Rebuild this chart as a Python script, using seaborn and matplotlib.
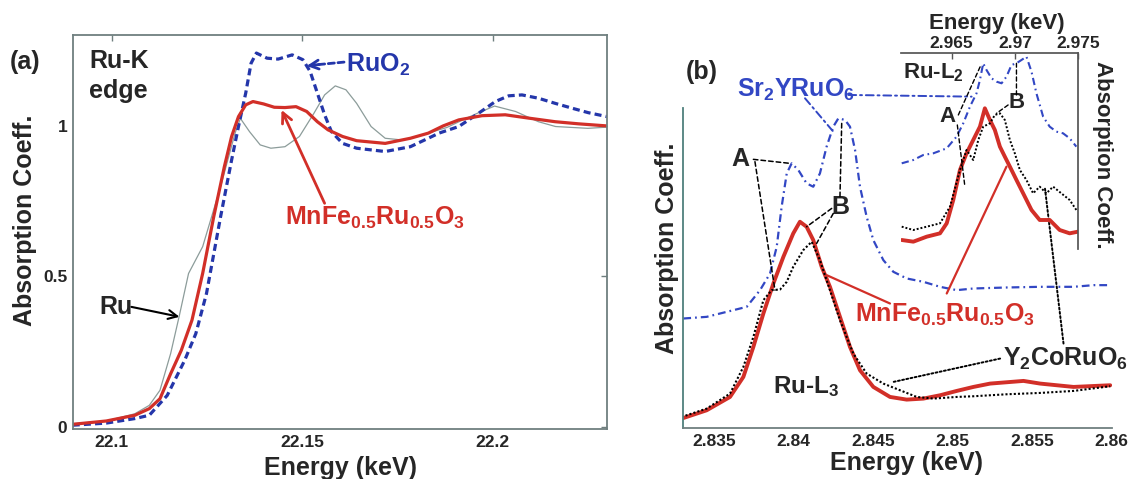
#### Ru-K and Ru-L edge XANES figure ####

# Import Libraries
import numpy as np
import pandas as pd
import matplotlib
matplotlib.use('Agg')
import matplotlib.pyplot as plt
import seaborn as sns

sns.set_theme(style = 'white')
plt.rcParams['font.family'] = ['Liberation Sans', 'DejaVu Sans']
plt.rcParams['font.weight'] = 'bold'
plt.rcParams['mathtext.fontset'] = 'custom'
plt.rcParams['mathtext.rm'] = 'Liberation Sans:bold'
plt.rcParams['mathtext.bf'] = 'Liberation Sans:bold'
plt.rcParams['mathtext.it'] = 'Liberation Sans:bold'
plt.rcParams['mathtext.default'] = 'bf'

# Data
## (a) Ru-K edge
ru_k_energy = [22.0898, 22.0986, 22.1061, 22.1099, 22.1127, 22.1155, 22.1178, 22.1202, 22.1239,
               22.1286, 22.1324, 22.1338, 22.1362, 22.1390, 22.1418, 22.1455, 22.1493, 22.1531,
               22.1559, 22.1587, 22.1615, 22.1643, 22.1681, 22.1718, 22.1765, 22.1831, 22.1880,
               22.1930, 22.1965, 22.2005, 22.2060, 22.2120, 22.2165, 22.2250, 22.2300]
ru_k_mu = [0.011, 0.020, 0.044, 0.072, 0.122, 0.244, 0.371, 0.510, 0.599,
           0.798, 0.976, 1.025, 0.981, 0.937, 0.926, 0.931, 0.965, 1.042,
           1.103, 1.133, 1.120, 1.075, 0.998, 0.959, 0.953, 0.976, 0.995,
           1.025, 1.045, 1.066, 1.048, 1.014, 0.998, 0.992, 0.996]

mnfe_k_energy = [22.0898, 22.0986, 22.1061, 22.1099, 22.1127, 22.1155, 22.1183, 22.1211, 22.1239,
                 22.1268, 22.1296, 22.1315, 22.1333, 22.1352, 22.1371, 22.1399, 22.1427, 22.1455,
                 22.1484, 22.1512, 22.1540, 22.1568, 22.1606, 22.1643, 22.1718, 22.1784, 22.1831,
                 22.1870, 22.1911, 22.1972, 22.2033, 22.2094, 22.2164, 22.2225, 22.2300]
mnfe_k_mu = [0.009, 0.020, 0.039, 0.061, 0.094, 0.177, 0.255, 0.355, 0.510,
             0.698, 0.865, 0.965, 1.031, 1.070, 1.081, 1.073, 1.062, 1.061,
             1.064, 1.048, 1.014, 0.987, 0.965, 0.951, 0.942, 0.959, 0.976,
             1.000, 1.020, 1.034, 1.037, 1.026, 1.014, 1.007, 1.000]

ruo2_energy = [22.0898, 22.0986, 22.1061, 22.1099, 22.1146, 22.1192, 22.1221, 22.1249, 22.1286,
               22.1315, 22.1333, 22.1352, 22.1366, 22.1380, 22.1408, 22.1437, 22.1474, 22.1502,
               22.1521, 22.1540, 22.1559, 22.1577, 22.1606, 22.1643, 22.1718, 22.1784, 22.1831,
               22.1859, 22.1911, 22.1963, 22.2007, 22.2042, 22.2077, 22.2120, 22.2164, 22.2208,
               22.2251, 22.2300]
ruo2_mu = [0.006, 0.013, 0.028, 0.039, 0.105, 0.222, 0.310, 0.443, 0.698,
           0.887, 0.998, 1.109, 1.208, 1.242, 1.225, 1.222, 1.236, 1.220,
           1.181, 1.109, 1.037, 0.981, 0.942, 0.926, 0.915, 0.931, 0.959,
           0.976, 0.998, 1.042, 1.081, 1.100, 1.103, 1.092, 1.075, 1.059,
           1.044, 1.031]

a_xticks = [22.1, 22.15, 22.2]
a_xticklabels = ['22.1', '22.15', '22.2']
a_yticks = [0, 0.5, 1]
a_yticklabels = ['0', '0.5', '1']

## (b) Ru-L3 edge (arbitrary units)
sr_l3_energy = [2.83305, 2.83452, 2.83578, 2.83704, 2.83788, 2.83851, 2.83893, 2.83924, 2.83956,
                2.83987, 2.84029, 2.84081, 2.84123, 2.84165, 2.84207, 2.84249, 2.84281, 2.84323,
                2.84354, 2.84386, 2.84417, 2.84459, 2.84501, 2.84564, 2.84627, 2.84711, 2.84816,
                2.84921, 2.85026, 2.85131, 2.85341, 2.85551, 2.85761, 2.85887, 2.85992]
sr_l3_mu = [0.329, 0.334, 0.349, 0.364, 0.414, 0.464, 0.544, 0.664, 0.764,
            0.794, 0.774, 0.734, 0.724, 0.764, 0.844, 0.904, 0.929, 0.924,
            0.904, 0.834, 0.724, 0.634, 0.564, 0.504, 0.469, 0.449, 0.439,
            0.424, 0.414, 0.419, 0.422, 0.424, 0.424, 0.429, 0.429]

mnfe_l3_energy = [2.83294, 2.83452, 2.83599, 2.83683, 2.83746, 2.83809, 2.83872, 2.83935, 2.83997,
                  2.84039, 2.84081, 2.84123, 2.84176, 2.84228, 2.84291, 2.84354, 2.84417, 2.84501,
                  2.84606, 2.84711, 2.84816, 2.84921, 2.85026, 2.85131, 2.85236, 2.85341, 2.85446,
                  2.85551, 2.85761, 2.85992]
mnfe_l3_mu = [0.029, 0.054, 0.094, 0.154, 0.244, 0.344, 0.434, 0.514, 0.584,
              0.619, 0.604, 0.564, 0.484, 0.424, 0.334, 0.244, 0.174, 0.124,
              0.094, 0.086, 0.089, 0.099, 0.112, 0.124, 0.134, 0.138, 0.142,
              0.134, 0.124, 0.129]

y2co_l3_energy = [2.83294, 2.83452, 2.83599, 2.83683, 2.83746, 2.83809, 2.83861, 2.83914, 2.83956,
                  2.83997, 2.84060, 2.84113, 2.84165, 2.84228, 2.84291, 2.84375, 2.84459, 2.84564,
                  2.84669, 2.84774, 2.84879, 2.85026, 2.85131, 2.85341, 2.85551, 2.85761, 2.85992]
y2co_l3_mu = [0.034, 0.059, 0.104, 0.184, 0.274, 0.384, 0.414, 0.416, 0.439,
              0.484, 0.534, 0.559, 0.504, 0.414, 0.324, 0.224, 0.164, 0.134,
              0.114, 0.094, 0.089, 0.094, 0.096, 0.102, 0.106, 0.112, 0.126]

b_xticks = [2.835, 2.84, 2.845, 2.85, 2.855, 2.86]
b_xticklabels = ['2.835', '2.84', '2.845', '2.85', '2.855', '2.86']

## (b) inset: Ru-L2 edge
sr_l2_energy = [2.96105, 2.96197, 2.96276, 2.96355, 2.96461, 2.96539, 2.96592, 2.96645, 2.96697,
                2.96724, 2.96750, 2.96776, 2.96816, 2.96855, 2.96895, 2.96934, 2.96974, 2.97013,
                2.97053, 2.97092, 2.97132, 2.97171, 2.97224, 2.97276, 2.97329, 2.97382, 2.97434,
                2.97487]
sr_l2_mu = [0.260, 0.270, 0.285, 0.290, 0.305, 0.340, 0.380, 0.430, 0.470,
            0.510, 0.560, 0.540, 0.515, 0.505, 0.500, 0.520, 0.555, 0.560,
            0.570, 0.580, 0.535, 0.470, 0.400, 0.370, 0.355, 0.350, 0.335,
            0.310]

mnfe_l2_energy = [2.96105, 2.96197, 2.96303, 2.96408, 2.96461, 2.96513, 2.96566, 2.96618, 2.96671,
                  2.96724, 2.96763, 2.96803, 2.96842, 2.96882, 2.96921, 2.96961, 2.97013, 2.97066,
                  2.97132, 2.97197, 2.97276, 2.97355, 2.97434, 2.97500]
mnfe_l2_mu = [0.030, 0.025, 0.040, 0.050, 0.080, 0.150, 0.240, 0.290, 0.330,
              0.370, 0.425, 0.390, 0.360, 0.310, 0.280, 0.250, 0.210, 0.170,
              0.120, 0.090, 0.090, 0.060, 0.050, 0.055]

y2co_l2_energy = [2.96105, 2.96197, 2.96303, 2.96408, 2.96487, 2.96566, 2.96618, 2.96671, 2.96711,
                  2.96750, 2.96803, 2.96842, 2.96882, 2.96921, 2.96961, 2.97000, 2.97040, 2.97092,
                  2.97145, 2.97197, 2.97250, 2.97303, 2.97368, 2.97434, 2.97487]
y2co_l2_mu = [0.070, 0.060, 0.070, 0.080, 0.130, 0.240, 0.300, 0.270, 0.330,
              0.370, 0.380, 0.405, 0.410, 0.390, 0.330, 0.290, 0.240, 0.210,
              0.170, 0.190, 0.170, 0.190, 0.170, 0.150, 0.120]

i_xticks = [2.965, 2.97, 2.975]
i_xticklabels = ['2.965', '2.97', '2.975']

# Colours
RED = '#d22f28'
BLUE_A = '#2436aa'
BLUE_B = '#3247c4'
GRAY = '#8c9c9a'
SPINE = '#6f7f7f'

# Figure and axes (pixel boxes)
W, H = 1131, 479
fig = plt.figure(figsize = (W / 100, H / 100), dpi = 100)

def box(l, t, r, b):
    return [l / W, 1 - b / H, (r - l) / W, (b - t) / H]

def ftext(px, py, s, **kw):
    fig.text(px / W, 1 - py / H, s, **kw)

ax_a = fig.add_axes(box(72.7, 35, 607, 429.3))
ax_b = fig.add_axes(box(682.5, 108.3, 1111.5, 428.3))
ax_i = fig.add_axes(box(900.7, 53.3, 1078, 249))
ax_i.patch.set_alpha(0)

# Panel (a)
sns.lineplot(x = ru_k_energy, y = ru_k_mu, ax = ax_a, color = GRAY, lw = 0.9,
             sort = False, estimator = None)
sns.lineplot(x = ruo2_energy, y = ruo2_mu, ax = ax_a, color = BLUE_A, lw = 2.3,
             linestyle = (0, (2.2, 1.3)), sort = False, estimator = None)
sns.lineplot(x = mnfe_k_energy, y = mnfe_k_mu, ax = ax_a, color = RED, lw = 2.3,
             sort = False, estimator = None)

ax_a.set_xlim(22.0898, 22.23)
ax_a.set_ylim(-0.0076, 1.302)
ax_a.set_xticks(a_xticks)
ax_a.set_xticklabels(a_xticklabels)
ax_a.set_yticks(a_yticks)
ax_a.set_yticklabels(a_yticklabels)
ax_a.tick_params(direction = 'in', top = True, right = True, length = 4, width = 1,
                 color = SPINE, labelsize = 12.5, pad = 4)
for s in ax_a.spines.values():
    s.set_visible(True)
    s.set_color(SPINE)
    s.set_linewidth(1.3)
ax_a.set_xlabel('')
ax_a.set_ylabel('')

ftext(25, 220, 'Absorption Coeff.', rotation = 90, ha = 'center', va = 'center', fontsize = 18)
ftext(340, 468, 'Energy (keV)', ha = 'center', va = 'center', fontsize = 18)
ftext(25, 62, '(a)', ha = 'center', va = 'center', fontsize = 18)
ftext(89, 61, 'Ru-K', ha = 'left', va = 'center', fontsize = 18)
ftext(89, 91, 'edge', ha = 'left', va = 'center', fontsize = 18)

ax_a.text(22.1615, 1.181, 'RuO$_2$', color = BLUE_A, fontsize = 18, ha = 'left', va = 'baseline')
ax_a.annotate('', xy = (22.1520, 1.201), xytext = (22.1610, 1.212),
              arrowprops = dict(arrowstyle = '-', color = BLUE_A, lw = 2, linestyle = (0, (2.2, 1.3)),
                                shrinkA = 0, shrinkB = 0))
ax_a.annotate('', xy = (22.1512, 1.199), xytext = (22.1545, 1.204),
              arrowprops = dict(arrowstyle = '->', color = BLUE_A, lw = 2, mutation_scale = 16,
                                shrinkA = 0, shrinkB = 0))
ax_a.text(22.1455, 0.671, 'MnFe$_{0.5}$Ru$_{0.5}$O$_3$', color = RED, fontsize = 18,
          ha = 'left', va = 'baseline')
ax_a.annotate('', xy = (22.1446, 1.053), xytext = (22.1559, 0.743),
              arrowprops = dict(arrowstyle = '->', color = RED, lw = 2, mutation_scale = 18,
                                shrinkA = 0, shrinkB = 0))
ax_a.text(22.0967, 0.377, 'Ru', fontsize = 18, ha = 'left', va = 'baseline')
ax_a.annotate('', xy = (22.1178, 0.366), xytext = (22.1052, 0.399),
              arrowprops = dict(arrowstyle = '->', color = 'black', lw = 1.5, mutation_scale = 16,
                                shrinkA = 0, shrinkB = 0))

# Panel (b) main
sns.lineplot(x = sr_l3_energy, y = sr_l3_mu, ax = ax_b, color = BLUE_B, lw = 1.6,
             linestyle = (0, (3.5, 1.8, 0.8, 1.8)), sort = False, estimator = None)
sns.lineplot(x = mnfe_l3_energy, y = mnfe_l3_mu, ax = ax_b, color = RED, lw = 2.8,
             sort = False, estimator = None)
sns.lineplot(x = y2co_l3_energy, y = y2co_l3_mu, ax = ax_b, color = 'black', lw = 1.5,
             linestyle = (0, (1, 1)), sort = False, estimator = None)

ax_b.set_xlim(2.833, 2.86)
ax_b.set_ylim(0, 0.959)
ax_b.set_xticks(b_xticks)
ax_b.set_xticklabels(b_xticklabels)
ax_b.set_yticks([])
ax_b.tick_params(axis = 'x', direction = 'in', length = 4, width = 1, color = SPINE,
                 labelsize = 12.5, pad = 4)
ax_b.spines['top'].set_visible(False)
ax_b.spines['right'].set_visible(False)
ax_b.spines['left'].set_color('#4f807d')
ax_b.spines['bottom'].set_color(SPINE)
ax_b.spines['left'].set_linewidth(1.3)
ax_b.spines['bottom'].set_linewidth(1.3)
ax_b.set_xlabel('')
ax_b.set_ylabel('')

ftext(667, 248, 'Absorption Coeff.', rotation = 90, ha = 'center', va = 'center', fontsize = 18)
ftext(906, 463, 'Energy (keV)', ha = 'center', va = 'center', fontsize = 18)
ftext(702, 72, '(b)', ha = 'center', va = 'center', fontsize = 18)

# Panel (b) inset
sns.lineplot(x = sr_l2_energy, y = sr_l2_mu, ax = ax_i, color = BLUE_B, lw = 1.5,
             linestyle = (0, (3.5, 1.8, 0.8, 1.8)), sort = False, estimator = None)
sns.lineplot(x = mnfe_l2_energy, y = mnfe_l2_mu, ax = ax_i, color = RED, lw = 2.8,
             sort = False, estimator = None)
sns.lineplot(x = y2co_l2_energy, y = y2co_l2_mu, ax = ax_i, color = 'black', lw = 1.4,
             linestyle = (0, (1, 1)), sort = False, estimator = None)

ax_i.set_xlim(2.96097, 2.975)
ax_i.set_ylim(0.003, 0.59)
ax_i.set_xticks(i_xticks)
ax_i.set_xticklabels(i_xticklabels)
ax_i.set_yticks([])
ax_i.xaxis.tick_top()
ax_i.tick_params(axis = 'x', direction = 'in', top = True, bottom = False, labeltop = True,
                 labelbottom = False, length = 4, width = 1, color = '#555555',
                 labelsize = 12.5, pad = 2)
ax_i.spines['left'].set_visible(False)
ax_i.spines['bottom'].set_visible(False)
ax_i.spines['top'].set_color('#555555')
ax_i.spines['right'].set_color('#555555')
ax_i.set_xlabel('')
ax_i.set_ylabel('')

ftext(997, 24, 'Energy (keV)', ha = 'center', va = 'center', fontsize = 16)
ftext(1103, 155, 'Absorption Coeff.', rotation = 270, ha = 'center', va = 'center', fontsize = 16)

# Labels and leader lines for (b)
def leader(ax, xy, xytext, color, ls, lw = 1.1, xycoords = 'data'):
    ax.annotate('', xy = xy, xycoords = xycoords, xytext = xytext, textcoords = 'data',
                arrowprops = dict(arrowstyle = '-', color = color, lw = lw, linestyle = ls,
                                  shrinkA = 0, shrinkB = 0),
                annotation_clip = False)

DASH = (0, (3, 2))
DOT = (0, (1, 1.2))
DASHDOT = (0, (4, 2, 1, 2))

ax_b.text(2.83641, 0.994, 'Sr$_2$YRuO$_6$', color = BLUE_B, fontsize = 18, ha = 'left', va = 'baseline')
leader(ax_b, (2.84249, 0.889), (2.84071, 0.989), BLUE_B, DASHDOT, lw = 1.4)
leader(ax_b, (2.96658, 0.46), (2.84344, 0.999), BLUE_B, DASHDOT, lw = 1.4, xycoords = ax_i.transData)

ax_b.text(2.83662, 0.806, 'A', fontsize = 18, ha = 'center', va = 'center')
leader(ax_b, (2.83976, 0.794), (2.83746, 0.806), 'black', DASH)
leader(ax_b, (2.83882, 0.414), (2.83756, 0.799), 'black', DASH)

ax_b.text(2.84291, 0.664, 'B', fontsize = 18, ha = 'center', va = 'center')
leader(ax_b, (2.84081, 0.604), (2.84239, 0.659), 'black', DASH)
leader(ax_b, (2.84144, 0.554), (2.84249, 0.644), 'black', DASH)
leader(ax_b, (2.84302, 0.914), (2.84291, 0.694), 'black', DASH)

ax_b.text(2.83872, 0.104, 'Ru-L$_3$', fontsize = 17.5, ha = 'left', va = 'baseline')

ax_b.text(2.84386, 0.319, 'MnFe$_{0.5}$Ru$_{0.5}$O$_3$', color = RED, fontsize = 18,
          ha = 'left', va = 'baseline')
leader(ax_b, (2.84207, 0.459), (2.84606, 0.374), RED, '-', lw = 1.6)
leader(ax_b, (2.96934, 0.25), (2.84963, 0.404), RED, '-', lw = 1.6, xycoords = ax_i.transData)

ax_b.text(2.8532, 0.186, 'Y$_2$CoRuO$_6$', fontsize = 18, ha = 'left', va = 'baseline')
leader(ax_b, (2.84627, 0.139), (2.85299, 0.209), 'black', DOT, lw = 1.4)
leader(ax_b, (2.97237, 0.19), (2.85698, 0.254), 'black', DOT, lw = 1.4, xycoords = ax_i.transData)

ax_i.text(2.96118, 0.515, 'Ru-L$_2$', fontsize = 16, ha = 'left', va = 'baseline')
ax_i.text(2.96466, 0.40, 'A', fontsize = 16, ha = 'center', va = 'center')
leader(ax_i, (2.96732, 0.555), (2.96553, 0.405), 'black', DASH, lw = 1)
leader(ax_i, (2.96605, 0.19), (2.96545, 0.375), 'black', DASH, lw = 1)
ax_i.text(2.97013, 0.443, 'B', fontsize = 16, ha = 'center', va = 'center')
leader(ax_i, (2.97013, 0.56), (2.97013, 0.465), 'black', DASH, lw = 1)
leader(ax_i, (2.96855, 0.41), (2.96947, 0.435), 'black', DASH, lw = 1)

fig.savefig('out.png', dpi = 100)
